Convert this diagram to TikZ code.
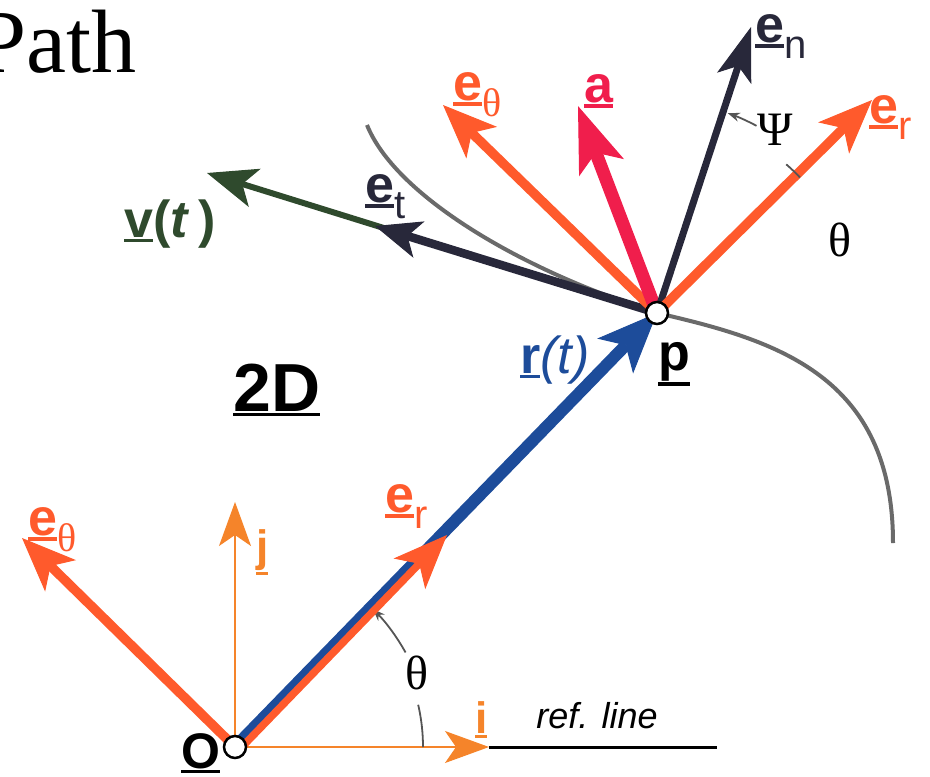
\documentclass[tikz,border=0pt]{standalone}
\usepackage{fontspec}
\setmainfont{Liberation Serif}
\setsansfont{Liberation Sans}
\usetikzlibrary{arrows.meta,calc}

\definecolor{vecorange}{HTML}{FF5A2C}
\definecolor{axisorange}{HTML}{F5842A}
\definecolor{accred}{HTML}{F01E4C}
\definecolor{navy}{HTML}{28283A}
\definecolor{velgreen}{HTML}{2F4A2D}
\definecolor{posblue}{HTML}{1D4C9A}
\definecolor{pathgray}{HTML}{6A6A6A}
\definecolor{arcgray}{HTML}{555555}

% bold letter with a bar under it
\newcommand{\ubf}[1]{\setbox0=\hbox{\bfseries #1}\rlap{\rule[\dimexpr-\dp0-5pt\relax]{\wd0}{3.5pt}}\box0}
\newcommand{\lsub}[1]{\raisebox{-16pt}{\fontsize{40}{40}\selectfont #1}}

\tikzset{
  unitvec/.style={draw=vecorange, line width=9.5pt, -{Stealth[length=54pt,width=44pt,inset=14pt,line width=1pt]}},
  accvec/.style={draw=accred, line width=13pt, -{Stealth[length=66pt,width=48pt,inset=16pt,line width=1pt]}},
  normvec/.style={draw=navy, line width=7pt, -{Stealth[length=54pt,width=36pt,inset=13pt,line width=1pt]}},
  tanvec/.style={draw=navy, line width=8.5pt, -{Stealth[length=46pt,width=38pt,inset=12pt,line width=1pt]}},
  velvec/.style={draw=velgreen, line width=6pt, -{Stealth[length=50pt,width=40pt,inset=13pt,line width=1pt]}},
  posvec/.style={draw=posblue, line width=12pt, -{Stealth[length=60pt,width=50pt,inset=15pt,line width=1pt]}},
  axisvec/.style={draw=axisorange, line width=2.5pt, -{Stealth[length=44pt,width=32pt,inset=11pt,line width=1pt]}},
  anglearc/.style={draw=arcgray, line width=1.8pt},
  dot/.style={circle, draw, fill=white, line width=2.5pt, minimum size=22pt, inner sep=0pt},
  lab/.style={font=\fontsize{52}{52}\selectfont\sffamily, inner sep=0pt, anchor=base west},
  greek/.style={font=\fontsize{48}{48}\selectfont, inner sep=0pt}
}

\begin{document}
\begin{tikzpicture}[x=1pt,y=-1pt]
    \useasboundingbox (0,0) rectangle (930,777);
    \clip (0,0) rectangle (930,777);
    \coordinate (O) at (235,747);
    \coordinate (P) at (657,313);
    % tips
    \coordinate (etO) at (22,538);
    \coordinate (erO) at (447,535);
    \coordinate (jt) at (235,502);
    \coordinate (it) at (489,747);
    \coordinate (refend) at (717,747);
    \coordinate (vt) at (207,173);
    \coordinate (ett) at (375,226);
    \coordinate (ethP) at (443,105);
    \coordinate (at) at (578,106);
    \coordinate (ent) at (751,27);
    \coordinate (erP) at (872,100);

    % the path
    \draw[pathgray, line width=4pt] (367,125) .. controls (395,195) and (520,270) .. (P)
        .. controls (775,340) and (893,375) .. (893,543);

    % frame at O
    \draw[black, line width=3pt] (it) -- (refend);
    \draw[axisvec] (O) -- (jt);
    \draw[axisvec] (O) -- (it);
    \draw[anglearc] ($(O)+(188,0)$) arc[start angle=0, end angle=13, radius=188pt];
    \draw[anglearc, -{Stealth[length=12pt,width=9pt]}] ($(O)+(29:195pt)$) arc[start angle=29, end angle=45, radius=195pt];
    \draw[unitvec] (O) -- (etO);
    \draw[posvec] (O) -- (P);
    \draw[unitvec, line width=7.5pt] ($(O)+(3.5,3.5)$) -- (erO);

    % vectors at p
    \draw[velvec] (P) -- (vt);
    \draw[tanvec] (P) -- (ett);
    \draw[unitvec] (P) -- (ethP);
    \draw[accvec] (P) -- (at);
    \draw[normvec] (P) -- (ent);
    \draw[unitvec] (P) -- (erP);
    \draw[anglearc] ($(P)+(43.5:197pt)$) arc[start angle=43.5, end angle=49, radius=197pt];
    \draw[anglearc, -{Stealth[length=12pt,width=9pt]}] ($(P)+(62:212pt)$) arc[start angle=62, end angle=70.5, radius=212pt];

    \node[dot] (odot) at (O) {};
    \node[dot] (pdot) at (P) {};

    % labels
    \node[font=\fontsize{90}{90}\selectfont, anchor=base east, inner sep=0pt] (title) at (137,72) {Path};
    \node[lab, font=\fontsize{68}{68}\selectfont\sffamily] (dim) at (233,411) {\ubf{2D}};
    \node[lab, text=vecorange] (lethP) at (453,100) {\ubf{e}\lsub{\rmfamily θ}};
    \node[lab, text=accred] (la) at (584,102) {\ubf{a}};
    \node[lab, text=navy] (len) at (755,42) {\ubf{e}\lsub{n}};
    \node[lab, text=vecorange] (lerP) at (869,123) {\ubf{e}\lsub{r}};
    \node[lab, text=navy] (let) at (365,202) {\ubf{e}\lsub{t}};
    \node[lab, text=velgreen] (lv) at (124,237) {\ubf{v}{\bfseries(\textit{t}\,)}};
    \node[lab, text=posblue] (lr) at (520,373) {\ubf{r}\textit{(t)}};
    \node[lab] (lp) at (658,370) {\ubf{p}};
    \node[lab, text=vecorange] (lerO) at (385,512) {\ubf{e}\lsub{r}};
    \node[lab, text=vecorange] (lethO) at (28,535) {\ubf{e}\lsub{\rmfamily θ}};
    \node[lab, text=axisorange, font=\fontsize{44}{44}\selectfont\sffamily] (lj) at (256,561) {\ubf{j}};
    \node[lab, text=axisorange, font=\fontsize{44}{44}\selectfont\sffamily] (li) at (475,733) {\ubf{i}};
    \node[font=\fontsize{36}{36}\selectfont\sffamily\itshape, inner sep=0pt, anchor=base] (lref) at (597,728) {ref. line};
    \node[lab, font=\fontsize{50}{50}\selectfont\sffamily] (lO) at (181,768) {\ubf{O}};
    \node[greek] (thO) at (417,673) {θ};
    \node[greek] (psi) at (775,130) {Ψ};
    \node[greek] (thP) at (840,240) {θ};
\end{tikzpicture}
\end{document}
